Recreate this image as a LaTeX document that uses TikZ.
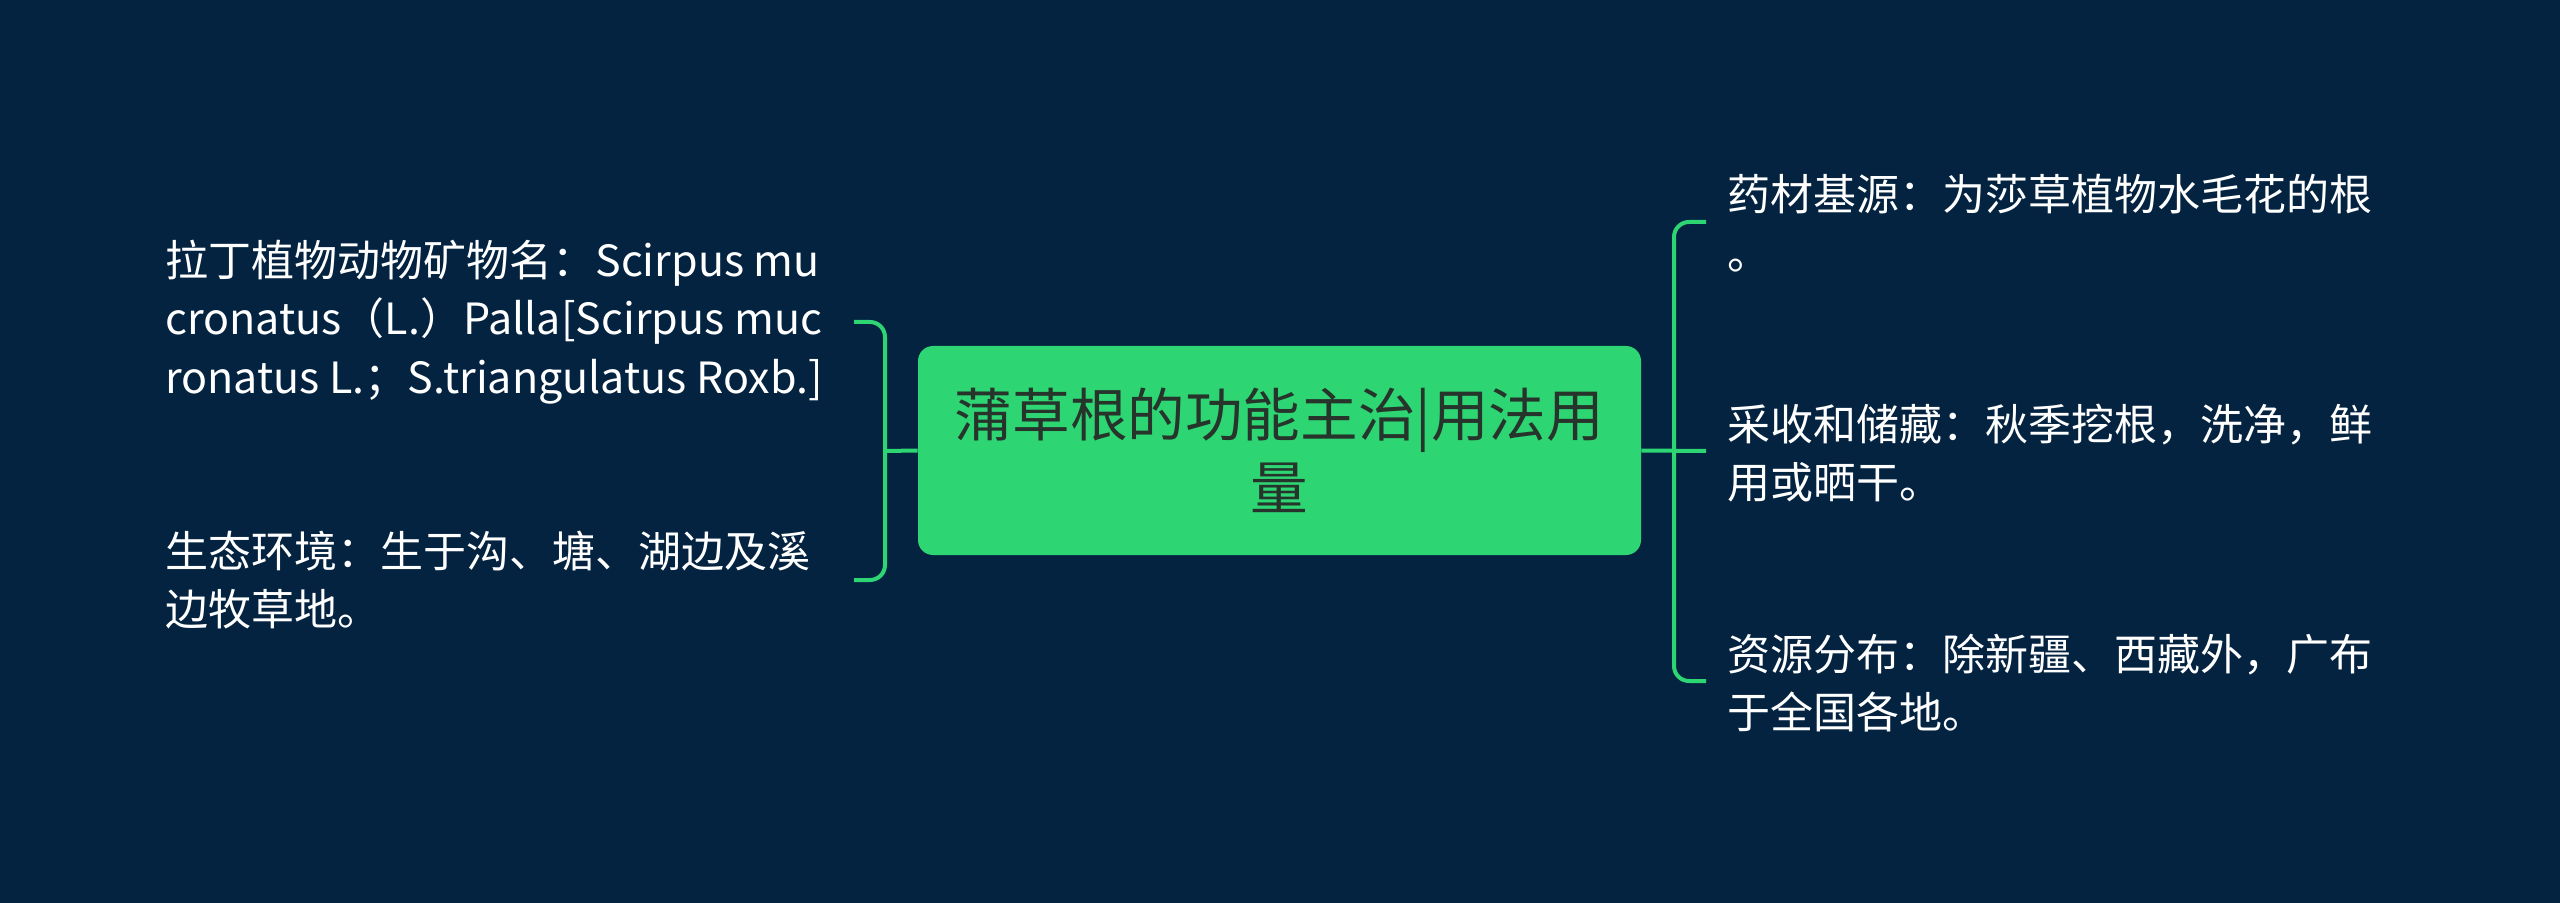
\documentclass[tikz,border=0pt]{standalone}
\usepackage{fontspec}
\setmainfont{Noto Sans CJK SC}
\definecolor{bg}{RGB}{3,35,64}
\definecolor{gr}{RGB}{46,213,115}
\definecolor{ctext}{RGB}{38,52,44}
\begin{document}
\begin{tikzpicture}[x=0.5pt,y=-0.5pt,
  leaf/.style={anchor=west,inner sep=0pt,align=left,text=white,font=\fontsize{21.5pt}{29.3pt}\selectfont},
  link/.style={draw=gr,line width=2pt},
  mainbox/.style={fill=gr,rounded corners=7.5pt,minimum width=361.5pt,minimum height=104.5pt,inner sep=0pt,align=center,text=ctext,font=\fontsize{28.8pt}{36.7pt}\selectfont}]
\useasboundingbox (0,0) rectangle (2560,903);
\fill[bg] (0,0) rectangle (2560,903);

\node[mainbox] (main) at (1279.5,450.5) {蒲草根的功能主治|用法用\\量};

% left leaves
\node[leaf] (l1) at (165,322) {拉丁植物动物矿物名：Scirpus mu\\cronatus（L.）Palla[Scirpus muc\\ronatus L.；S.triangulatus Roxb.]};
\node[leaf] (l2) at (165,580) {生态环境：生于沟、塘、湖边及溪\\边牧草地。};

% right leaves
\node[leaf] (r1) at (1727,223) {药材基源：为莎草植物水毛花的根\\。};
\node[leaf] (r2) at (1727,453) {采收和储藏：秋季挖根，洗净，鲜\\用或晒干。};
\node[leaf] (r3) at (1727,683) {资源分布：除新疆、西藏外，广布\\于全国各地。};

% left bracket
\coordinate (lj) at (885,451);
\coordinate (lt) at (854,322);
\coordinate (lb) at (854,580);
\draw[link] (main.west) -- (lj);
\draw[link,rounded corners=7.5pt] (lt) -- (885,322) -- (885,580) -- (lb);

% right bracket
\coordinate (rj) at (1674,451);
\coordinate (rt) at (1706,222);
\coordinate (rm) at (1706,451);
\coordinate (rb) at (1706,681);
\draw[link] (main.east) -- (rm);
\draw[link,rounded corners=7.5pt] (rt) -- (1674,222) -- (1674,681) -- (rb);
\end{tikzpicture}
\end{document}
